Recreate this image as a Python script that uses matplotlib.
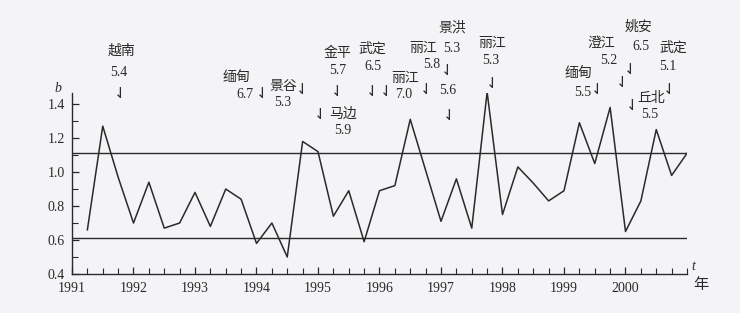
import matplotlib
matplotlib.use("Agg")
import matplotlib.pyplot as plt
from matplotlib.ticker import MultipleLocator

# ---- data ----
t = [1991.25, 1991.5, 1991.75, 1992.0, 1992.25, 1992.5, 1992.75, 1993.0, 1993.25,
     1993.5, 1993.75, 1994.0, 1994.25, 1994.5, 1994.75, 1995.0, 1995.25, 1995.5,
     1995.75, 1996.0, 1996.25, 1996.5, 1997.0, 1997.25, 1997.5, 1997.75, 1998.0,
     1998.25, 1998.5, 1998.75, 1999.0, 1999.25, 1999.5, 1999.75, 2000.0, 2000.25,
     2000.5, 2000.75, 2001.0]
b = [0.66, 1.27, 0.97, 0.70, 0.94, 0.67, 0.70, 0.88, 0.68,
     0.90, 0.84, 0.58, 0.70, 0.50, 1.18, 1.12, 0.74, 0.89,
     0.59, 0.89, 0.92, 1.31, 0.71, 0.96, 0.67, 1.47, 0.75,
     1.03, 0.935, 0.83, 0.89, 1.29, 1.05, 1.38, 0.65, 0.83,
     1.25, 0.98, 1.11]
upper = 1.11
lower = 0.61
years = [1991, 1992, 1993, 1994, 1995, 1996, 1997, 1998, 1999, 2000]
yticks = [0.4, 0.6, 0.8, 1.0, 1.2, 1.4]

# earthquake annotations: place name, magnitude
quakes = [("越南", "5.4"), ("缅甸", "6.7"), ("景谷", "5.3"), ("金平", "5.7"),
          ("马边", "5.9"), ("武定", "6.5"), ("丽江", "7.0"), ("丽江", "5.8"),
          ("景洪", "5.3"), ("", "5.6"), ("丽江", "5.3"), ("缅甸", "5.5"),
          ("澄江", "5.2"), ("姚安", "6.5"), ("丘北", "5.5"), ("武定", "5.1")]
# layout (pixel positions in the 740x313 image): name xy, magnitude xy, arrow xy
layout = [((122, 51), (119, 72), (120, 93)),
          ((236, 77), (245, 94), (262, 93)),
          ((283, 86), (283, 103), (302, 90)),
          ((337, 53), (338, 70), (337, 92)),
          ((343, 114), (343, 131), (320, 114)),
          ((372, 49), (373, 66), (372, 91)),
          ((405, 78), (404, 94), (386, 91)),
          ((423, 48), (432, 65), (426, 90)),
          ((452, 28), (452, 48), (447, 71)),
          ((452, 28), (448, 90), (449, 115)),
          ((492, 43), (491, 60), (492, 84)),
          ((578, 73), (583, 93), (597, 90)),
          ((601, 43), (609, 61), (622, 82)),
          ((639, 27), (641, 47), (630, 70)),
          ((651, 98), (650, 115), (632, 106)),
          ((673, 48), (668, 67), (669, 90))]

W, H = 740, 313
bg = "#f4f4f6"
ink = "#2a2a2a"
plt.rcParams['font.family'] = ['Liberation Serif', 'Noto Sans CJK SC', 'DejaVu Sans']

fig = plt.figure(figsize=(W / 100, H / 100), dpi=100, facecolor=bg)
x0, x1, y0, y1 = 72, 687, 274, 93
ax = fig.add_axes([x0 / W, 1 - y0 / H, (x1 - x0) / W, (y0 - y1) / H])
ax.set_facecolor(bg)
ax.set_xlim(1991, 2001.0)
ax.set_ylim(0.4, 1.465)

ax.plot(t, b, color=ink, lw=1.1)
ax.axhline(upper, color=ink, lw=1.0)
ax.axhline(lower, color=ink, lw=1.0)

for s in ("top", "right"):
    ax.spines[s].set_visible(False)
for s in ("left", "bottom"):
    ax.spines[s].set_color(ink)
    ax.spines[s].set_linewidth(1.0)

ax.set_xticks(years)
ax.set_xticklabels([str(y) for y in years])
ax.xaxis.set_minor_locator(MultipleLocator(0.25))
ax.set_yticks(yticks)
ax.set_yticklabels([f"{v:.1f}" for v in yticks])
ax.yaxis.set_minor_locator(MultipleLocator(0.1))
ax.tick_params(axis="both", which="major", direction="in", length=5, width=0.9,
               color=ink, labelsize=10, labelcolor=ink)
ax.tick_params(axis="both", which="minor", direction="in", length=4, width=0.8, color=ink)
ax.tick_params(axis="x", pad=6)
ax.tick_params(axis="y", pad=5)

def fxy(p):
    return (p[0] / W, 1 - p[1] / H)

fig.text(*fxy((58, 88)), "b", fontstyle="italic", fontsize=10, color=ink,
         ha="center", va="center", family="Liberation Serif")
fig.text(*fxy((693, 267)), "t", fontstyle="italic", fontsize=10, color=ink,
         ha="center", va="center", family="Liberation Serif")
fig.text(*fxy((701, 284)), "年", fontsize=11, color=ink, ha="center", va="center",
         family=["Noto Sans CJK SC"])

for (name, mag), (pn, pm, pa) in zip(quakes, layout):
    if name:
        fig.text(*fxy(pn), name, fontsize=10, color=ink, ha="center", va="center",
                 family=["Noto Sans CJK SC"])
    fig.text(*fxy(pm), mag, fontsize=10, color=ink, ha="center", va="center",
             family="Liberation Serif")
    fig.text(*fxy(pa), "⇃", fontsize=11, color=ink, ha="center", va="center",
             family="DejaVu Sans")

fig.savefig("out.png", dpi=100, facecolor=bg)
